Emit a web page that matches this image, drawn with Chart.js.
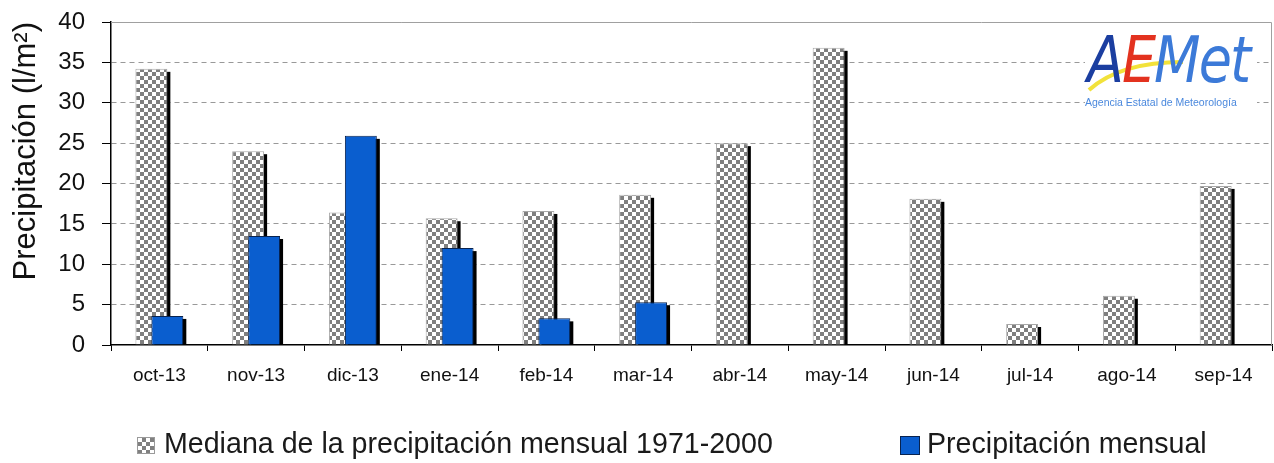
<!DOCTYPE html>
<html>
<head>
<meta charset="utf-8">
<script src="https://cdn.jsdelivr.net/npm/chart.js@4.4.1/dist/chart.umd.min.js"></script>
<style>
body{margin:0;background:#fff;}
#wrap{position:relative;width:1274px;height:463px;overflow:hidden;}
#logo{position:absolute;left:1085px;top:30px;width:172px;height:82px;background:#fff;}
#logo .word{position:absolute;left:2px;top:-8px;font-family:'DejaVu Sans';font-style:italic;font-size:54px;letter-spacing:-2px;transform:scaleY(1.2);transform-origin:left top;white-space:nowrap;}
#logo .sub{position:absolute;left:0px;top:66px;font-family:'Liberation Sans';font-size:10.5px;color:#4a88dd;white-space:nowrap;}
.sw{position:absolute;box-sizing:border-box;}
.lt{position:absolute;font-family:'Liberation Sans';font-size:28.6px;line-height:32px;color:#1a1a1a;white-space:nowrap;}
</style>
</head>
<body>
<div id="wrap">
<canvas id="precip_chart" width="1274" height="463"></canvas>
<div id="logo">
  <svg width="172" height="82" style="position:absolute;left:0;top:0">
    <path d="M4 60 Q 35 32 98 32" stroke="#f2e23a" stroke-width="4" fill="none"/>
  </svg>
  <div class="word"><span style="color:#1b3ea0">A</span><span style="color:#e3321f">E</span><span style="color:#3c7ad8">Met</span></div>
  <div class="sub">Agencia Estatal de Meteorología</div>
</div>
<div class="sw" id="sw0" style="left:137px;top:437px;width:18px;height:17px;border:1px solid #9a9a9a;background-color:#fff;background-image:conic-gradient(#808080 25%,#fff 0 50%,#808080 0 75%,#fff 0);background-size:8px 8px;"></div>
<div class="lt" id="lt0" style="left:164px;top:427px;"></div>
<div class="sw" id="sw1" style="left:900px;top:436px;width:20px;height:19px;border:1px solid #08234f;background:#0a5ecf;"></div>
<div class="lt" id="lt1" style="left:927px;top:427px;"></div>
</div>
<script>
const months=['oct-13','nov-13','dic-13','ene-14','feb-14','mar-14','abr-14','may-14','jun-14','jul-14','ago-14','sep-14'];
const medianaValues=[34.2,24.0,16.4,15.7,16.6,18.6,25.0,36.8,18.1,2.6,6.1,19.7];
const mensualValues=[3.6,13.5,25.9,12.0,3.3,5.3,null,null,null,null,null,null];
const legendNames=['Mediana de la precipitación mensual 1971-2000','Precipitación mensual'];
const yTitle='Precipitación (l/m²)';

document.getElementById('lt0').textContent=legendNames[0];
document.getElementById('lt1').textContent=legendNames[1];

Chart.defaults.font.family="'Liberation Sans', Arial, sans-serif";

const ctx=document.getElementById('precip_chart').getContext('2d');

// checkered fill like the excel pattern
const tile=document.createElement('canvas');
tile.width=8;tile.height=8;
const tg=tile.getContext('2d');
tg.fillStyle='#fff';tg.fillRect(0,0,8,8);
tg.fillStyle='#7f7f7f';tg.fillRect(0,0,4,4);tg.fillRect(4,4,4,4);
const checker=ctx.createPattern(tile,'repeat');

function drawShadow(chart,index){
    const c=chart.ctx,area=chart.chartArea;
    c.save();
    c.beginPath();
    c.rect(area.left,area.top-10,area.right-area.left+10,area.bottom-area.top+10);
    c.clip();
    c.fillStyle='#000';
    chart.getDatasetMeta(index).data.forEach(bar=>{
        const p=bar.getProps(['x','y','base','width'],true);
        if(!isFinite(p.y)||p.base-p.y<1) return;
        c.fillRect(p.x-p.width/2+3,p.y+3,p.width,p.base-p.y);
    });
    c.restore();
}

// blue bars go on top of the checkered ones, both with a drop shadow
const barOrder={
    id:'barOrder',
    beforeDatasetDraw(chart,args){
        if(args.index===1) return false;
        drawShadow(chart,0);
    },
    afterDatasetsDraw(chart){
        drawShadow(chart,1);
        chart.getDatasetMeta(1).controller.draw();
        const a=chart.chartArea,c=chart.ctx;
        c.save();
        c.strokeStyle='#a0a0a0';c.lineWidth=1;
        c.beginPath();
        c.moveTo(a.left,a.top+0.5);c.lineTo(a.right-0.5,a.top+0.5);c.lineTo(a.right-0.5,a.bottom);
        c.stroke();
        c.restore();
    }
};

const myChart=new Chart(ctx,{
    type:'bar',
    data:{
        labels:months,
        datasets:[{
            label:legendNames[0],
            data:medianaValues,
            backgroundColor:checker,
            borderColor:'#a8a8a8',
            borderWidth:1,
            categoryPercentage:0.33,
            barPercentage:2
        },{
            label:legendNames[1],
            data:mensualValues,
            backgroundColor:'#0a5ecf',
            borderColor:'#08234f',
            borderWidth:1,
            categoryPercentage:0.33,
            barPercentage:2
        }]
    },
    options:{
        responsive:false,
        animation:false,
        layout:{padding:{left:0,right:2,top:22,bottom:78}},
        plugins:{legend:{display:false},tooltip:{enabled:false}},
        scales:{
            x:{
                grid:{offset:true,drawOnChartArea:false,tickLength:6,tickColor:'#000'},
                border:{color:'#000',width:1.5},
                ticks:{font:{size:19},color:'#111',padding:13,maxRotation:0,autoSkip:false},
                afterFit(s){s.height=40;}
            },
            y:{
                min:0,max:40,
                ticks:{stepSize:5,font:{size:24},color:'#111',padding:17},
                grid:{
                    color:c=>(c.tick&&(c.tick.value===0||c.tick.value===40))?'rgba(0,0,0,0)':'#999',
                    tickColor:'#000',tickLength:9,lineWidth:1
                },
                border:{color:'#000',width:1.5,dash:[5,4]},
                title:{display:true,text:yTitle,align:'end',font:{size:31},color:'#111',padding:{top:8,bottom:0}},
                afterFit(s){s.width=111;s.paddingTop=0;s.paddingBottom=0;}
            }
        }
    },
    plugins:[barOrder]
});
</script>
</body>
</html>
